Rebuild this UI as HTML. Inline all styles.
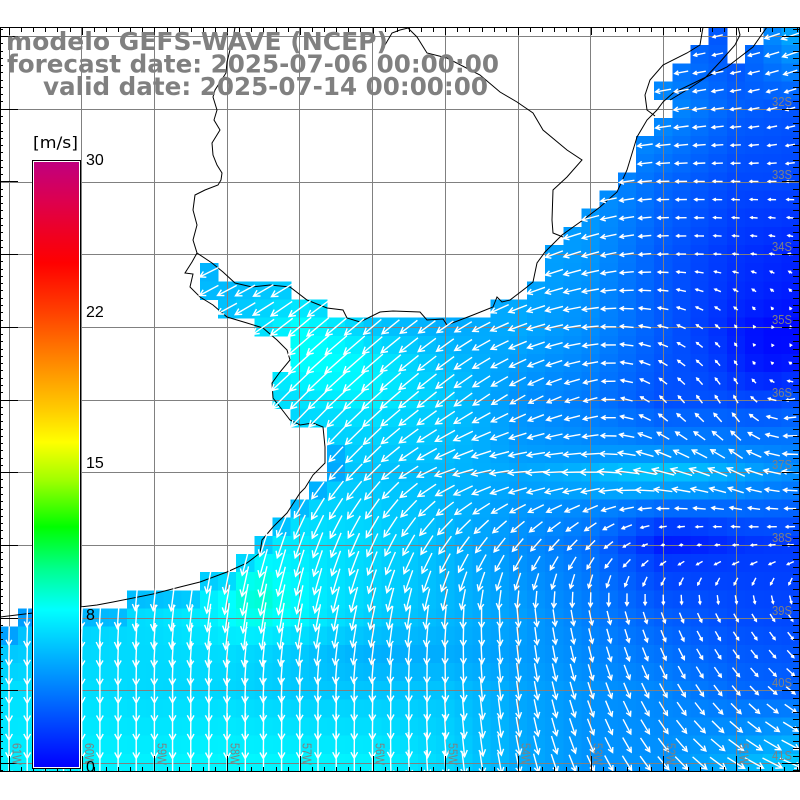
<!DOCTYPE html>
<html><head><meta charset="utf-8">
<style>html,body{margin:0;padding:0;background:#fff;width:800px;height:800px;overflow:hidden}svg{display:block}</style>
</head>
<body>
<svg id="s" xmlns="http://www.w3.org/2000/svg" width="800" height="800" viewBox="0 0 800 800">
<defs>
<clipPath id="fr"><rect x="0" y="27" width="800" height="744"/></clipPath>
<linearGradient id="cb" x1="0" y1="162" x2="0" y2="767" gradientUnits="userSpaceOnUse">
<stop offset="0" stop-color="#c0007f"/>
<stop offset="0.063" stop-color="#dc0050"/>
<stop offset="0.121" stop-color="#f00020"/>
<stop offset="0.167" stop-color="#ff0000"/>
<stop offset="0.248" stop-color="#ff4000"/>
<stop offset="0.349" stop-color="#ff9800"/>
<stop offset="0.41" stop-color="#ffcc00"/>
<stop offset="0.463" stop-color="#ffff00"/>
<stop offset="0.526" stop-color="#a0ff00"/>
<stop offset="0.603" stop-color="#00ff00"/>
<stop offset="0.674" stop-color="#00ff90"/>
<stop offset="0.74" stop-color="#00ffff"/>
<stop offset="1" stop-color="#0000ff"/>
</linearGradient>
</defs>
<rect width="800" height="800" fill="#fff"/>
<g id="cells" clip-path="url(#fr)" shape-rendering="crispEdges"></g>
<path id="grid" fill="none" stroke="#808080" stroke-width="1" shape-rendering="crispEdges" d=""/>
<g fill="none" stroke="#000" stroke-width="1" clip-path="url(#fr)">
<polyline points="235,27 233,40 230,50 227,62 226,73 215,90 213,97 217,110 214,120 220,130 212,143 213,155 217,165 222,173 221,180 218,185 205,190 195,195 193,210 197,225 193,240 197,253 192,262 185,273 193,274 190,287 200,297 213,305 227,317 247,323 263,328 277,340 287,350 290,360 280,372 272,383 273,398 280,407 290,420 300,425 313,423 323,427 325,447 325,463 313,475 305,488 300,493 287,513 273,527 262,540 260,553 247,563 227,572 200,582 180,587 153,594 113,602 97,605 80,607 33,613 0,617"/>
<polyline points="197,253 212,263 223,272 235,283 252,287 270,285 290,287 307,300 327,308 343,310 347,318 360,322 380,312 393,311 420,312 427,320 443,319 447,325 473,315 493,307 497,297 502,302 510,300 527,287 533,282 537,263 545,252 562,235 583,220 600,207 617,192 627,170 637,137 647,120 657,110 663,102 673,93 700,80 727,67 740,57 753,47 767,27"/>
<polyline points="385,45 392,33 400,30 408,28 417,37 427,53 447,58 480,75 500,92 517,102 533,113 543,130 567,150 582,160 567,177 553,190 552,220 553,233 563,237"/>
<polyline points="703,27 700,45 687,53 663,65 650,80 645,95 647,110 655,116"/>
<polyline points="670,100 690,88 705,78 720,62 735,45 740,35 738,27"/>
</g>
<path id="arrows" clip-path="url(#fr)" fill="none" stroke="#fff" stroke-width="1.4" d=""/>
<path id="ticks" fill="none" stroke="#000" stroke-width="1" shape-rendering="crispEdges" d=""/>
<rect x="0.5" y="27.5" width="799" height="744" fill="none" stroke="#000" stroke-width="1" shape-rendering="crispEdges"/>
<g fill="#808080" font-family="'Liberation Sans', sans-serif" font-size="13">
<text x="772" y="106" textLength="20" lengthAdjust="spacingAndGlyphs">32S</text>
<text x="772" y="179" textLength="20" lengthAdjust="spacingAndGlyphs">33S</text>
<text x="772" y="251" textLength="20" lengthAdjust="spacingAndGlyphs">34S</text>
<text x="772" y="324" textLength="20" lengthAdjust="spacingAndGlyphs">35S</text>
<text x="772" y="397" textLength="20" lengthAdjust="spacingAndGlyphs">36S</text>
<text x="772" y="469" textLength="20" lengthAdjust="spacingAndGlyphs">37S</text>
<text x="772" y="542" textLength="20" lengthAdjust="spacingAndGlyphs">38S</text>
<text x="772" y="615" textLength="20" lengthAdjust="spacingAndGlyphs">39S</text>
<text x="772" y="687" textLength="20" lengthAdjust="spacingAndGlyphs">40S</text>
<text x="772" y="760" textLength="20" lengthAdjust="spacingAndGlyphs">41S</text>
<text transform="translate(12.5,743) rotate(90)" textLength="22" lengthAdjust="spacingAndGlyphs">61W</text>
<text transform="translate(85,743) rotate(90)" textLength="22" lengthAdjust="spacingAndGlyphs">60W</text>
<text transform="translate(157.5,743) rotate(90)" textLength="22" lengthAdjust="spacingAndGlyphs">59W</text>
<text transform="translate(230.5,743) rotate(90)" textLength="22" lengthAdjust="spacingAndGlyphs">58W</text>
<text transform="translate(302.5,743) rotate(90)" textLength="22" lengthAdjust="spacingAndGlyphs">57W</text>
<text transform="translate(375.5,743) rotate(90)" textLength="22" lengthAdjust="spacingAndGlyphs">56W</text>
<text transform="translate(448.5,743) rotate(90)" textLength="22" lengthAdjust="spacingAndGlyphs">55W</text>
<text transform="translate(521.5,743) rotate(90)" textLength="22" lengthAdjust="spacingAndGlyphs">54W</text>
<text transform="translate(593.5,743) rotate(90)" textLength="22" lengthAdjust="spacingAndGlyphs">53W</text>
<text transform="translate(666.5,743) rotate(90)" textLength="22" lengthAdjust="spacingAndGlyphs">52W</text>
<text transform="translate(739.5,743) rotate(90)" textLength="22" lengthAdjust="spacingAndGlyphs">51W</text>
</g>
<rect x="32.5" y="160.5" width="48" height="608" fill="#fff" stroke="#000" stroke-width="1" shape-rendering="crispEdges"/>
<rect x="34" y="162" width="45" height="605" fill="url(#cb)" shape-rendering="crispEdges"/>
<g fill="#000" font-family="'Liberation Sans', sans-serif" font-size="16">
<text x="86" y="165">30</text>
<text x="86" y="317">22</text>
<text x="86" y="468">15</text>
<text x="86" y="620">8</text>
<text x="86" y="772">0</text>
</g>
<text x="33" y="148" fill="#000" font-family="'DejaVu Sans', sans-serif" font-size="16" textLength="45" lengthAdjust="spacingAndGlyphs">[m/s]</text>
<g fill="#808080" font-family="'DejaVu Sans', sans-serif" font-weight="bold" font-size="25">
<text x="6" y="50" textLength="382" lengthAdjust="spacingAndGlyphs">modelo GEFS-WAVE (NCEP)</text>
<text x="7" y="72.5" textLength="492" lengthAdjust="spacingAndGlyphs">forecast date: 2025-07-06 00:00:00</text>
<text x="43" y="95" textLength="445" lengthAdjust="spacingAndGlyphs">valid date: 2025-07-14 00:00:00</text>
</g>
</svg>
<script>
(function(){
var X=[9,82,154,227,300,372,445,518,591,663,736,809];
var Y=[36,109,182,254,327,400,472,545,618,690,763];
var S=[
[5,5,5,5,5,5,5,5,4.5,3.5,2.5,6],
[5,5,5,5,5,5,5,5,4.8,4.5,3.0,2.5],
[5,5,5,5,5,5,5,5,4.8,3.3,2.3,2.2],
[5.5,5.5,5.5,5.5,5.5,5.2,5.2,5.3,4.7,2.8,1.6,1.0],
[6,6,6,6.2,7.6,5.6,5.3,5.3,4.4,2.8,1.4,0.8],
[6.8,6.8,6.8,6.8,6.8,7.0,6.3,4.6,3.8,2.5,2.8,3.5],
[6.5,6.5,6.5,6.3,6.2,6.2,5.8,5.0,4.8,5.0,4.7,4.2],
[6.2,6.5,6.8,7.0,7.3,6.8,5.8,4.5,3.5,1.5,1.8,1.8],
[5.6,6.6,7.0,7.6,7.6,6.6,5.8,5.0,4.0,3.0,2.4,2.2],
[7.0,7.0,6.8,6.8,6.4,6.3,6.2,5.2,4.6,4.2,3.3,3.0],
[7.5,7.6,7.6,7.8,7.7,7.6,6.8,5.4,4.6,4.6,5.5,6.5]];
var D=[
[250,250,250,250,250,250,250,250,255,260,255,250],
[245,245,245,245,245,245,245,245,255,260,262,250],
[245,245,245,245,245,245,245,245,255,268,272,265],
[245,245,245,245,245,240,240,245,255,268,275,290],
[235,235,235,240,230,230,235,250,265,285,320,350],
[225,225,225,225,225,228,232,240,255,315,330,240],
[215,215,215,218,220,225,250,265,270,285,295,270],
[185,185,190,195,200,205,215,220,225,255,265,265],
[182,183,185,188,190,192,185,175,168,160,150,145],
[180,180,180,182,182,182,178,172,162,152,140,125],
[180,180,180,180,180,180,175,168,155,140,122,112]];
var U=[],V=[];
for(var j=0;j<D.length;j++){U.push([]);V.push([]);for(var i=0;i<D[j].length;i++){var a=D[j][i]*Math.PI/180;U[j].push(Math.sin(a));V[j].push(-Math.cos(a));}}
function loc(A,v){var n=A.length;if(v<=A[0])return[0,0];if(v>=A[n-1])return[n-2,1];var i=0;while(A[i+1]<v)i++;return[i,(v-A[i])/(A[i+1]-A[i])];}
function bil(G,x,y){var a=loc(X,x),b=loc(Y,y);var i=a[0],tx=a[1],j=b[0],ty=b[1];
return G[j][i]*(1-tx)*(1-ty)+G[j][i+1]*tx*(1-ty)+G[j+1][i]*(1-tx)*ty+G[j+1][i+1]*tx*ty;}
var B=[[350,360,1.3,50,30],[258,595,1.2,25,25],[775,365,-1.5,35,35],[650,478,1.3,70,14],[360,655,-0.9,90,18],[680,537,-0.8,40,12]];
var R=[];
R[0]=[[39,39],[42,43]];R[1]=[[38,39],[41,43]];R[2]=[[37,43]];R[3]=[[36,43]];R[4]=[[37,43]];R[5]=[[36,43]];
R[6]=[[35,43]];R[7]=[[35,43]];R[8]=[[34,43]];R[9]=[[33,43]];R[10]=[[32,43]];R[11]=[[31,43]];R[12]=[[30,43]];
R[13]=[[11,11],[30,43]];R[14]=[[11,15],[29,43]];R[15]=[[12,17],[27,43]];R[16]=[[14,43]];R[17]=[[16,43]];R[18]=[[16,43]];
R[19]=[[15,43]];R[20]=[[15,43]];R[21]=[[16,43]];R[22]=[[18,43]];R[23]=[[18,43]];R[24]=[[18,43]];R[25]=[[17,43]];
R[26]=[[16,43]];R[27]=[[15,43]];R[28]=[[14,43]];R[29]=[[13,43]];R[30]=[[11,43]];R[31]=[[7,43]];R[32]=[[1,43]];
for(var j=33;j<=40;j++)R[j]=[[0,43]];
function sea(i,j){if(j<0||j>40||i<0||i>43)return true;var r=R[j];for(var k=0;k<r.length;k++)if(i>=r[k][0]&&i<=r[k][1])return true;return false;}
function col(s){var r=0,g,b;if(s<=8){g=255*s/8;b=255;}else if(s<=12){g=255;b=255*(12-s)/4;}else{g=255;b=0;r=Math.min(255,255*(s-12)/4);}
return 'rgb('+Math.round(r)+','+Math.round(Math.max(0,g))+','+Math.round(b)+')';}
var c=18.175,cells='',ap='';
for(var j=0;j<=40;j++){for(var i=0;i<=43;i++){if(!sea(i,j))continue;
var cx=9+i*c,cy=36+j*c;
var s=bil(S,cx,cy);
for(var k=0;k<B.length;k++){var b=B[k];var dx=(cx-b[0])/b[3],dy=(cy-b[1])/b[4];s+=b[2]*Math.exp(-(dx*dx+dy*dy)/2);}
if(cy>440&&cx<350&&(!sea(i-1,j)||!sea(i+1,j)||!sea(i,j-1)||!sea(i,j+1)))s-=0.9;
if(s<0.3)s=0.3;
var x0=-0.09+i*c,y0=26.91+j*c;
cells+='<rect x="'+x0.toFixed(2)+'" y="'+y0.toFixed(2)+'" width="18.8" height="18.8" fill="'+col(s)+'"/>';
var ux=bil(U,cx,cy),uy=bil(V,cx,cy),n=Math.sqrt(ux*ux+uy*uy)||1;ux/=n;uy/=n;
var L=3.7*s;var tx=cx-ux*L/2,ty=cy-uy*L/2,hx=cx+ux*L/2,hy=cy+uy*L/2;
var h=Math.max(2.5,Math.min(7,0.32*L)),a=0.5,ca=Math.cos(a),sa=Math.sin(a);
var px=-ux,py=-uy;
var b1x=hx+h*(px*ca-py*sa),b1y=hy+h*(px*sa+py*ca);
var b2x=hx+h*(px*ca+py*sa),b2y=hy+h*(-px*sa+py*ca);
ap+='M'+tx.toFixed(1)+' '+ty.toFixed(1)+'L'+hx.toFixed(1)+' '+hy.toFixed(1)+'M'+b1x.toFixed(1)+' '+b1y.toFixed(1)+'L'+hx.toFixed(1)+' '+hy.toFixed(1)+'L'+b2x.toFixed(1)+' '+b2y.toFixed(1);
}}
var NS='http://www.w3.org/2000/svg';
var g=document.getElementById('cells');
var tmp=new DOMParser().parseFromString('<svg xmlns="'+NS+'">'+cells+'</svg>','image/svg+xml');
var kids=tmp.documentElement.childNodes;
var frag=document.createDocumentFragment();
for(var k=0;k<kids.length;k++)frag.appendChild(document.importNode(kids[k],true));
g.appendChild(frag);
document.getElementById('arrows').setAttribute('d',ap);
var gx=[9,81,154,227,299,372,445,518,590,663,736],gy=[36,109,182,254,327,400,472,545,618,690,763],gd='';
for(var k=0;k<gx.length;k++)gd+='M'+(gx[k]+0.5)+' 27V771';
for(var k=0;k<gy.length;k++)gd+='M0 '+(gy[k]+0.5)+'H800';
document.getElementById('grid').setAttribute('d',gd);
var t='';
for(var k=-2;k<70;k++){var x=9+k*12.117;if(x<0||x>800)continue;var xr=Math.round(x)+0.5;var mj=(k%6===0);
t+='M'+xr+' 27V'+(27+(mj?8:5))+'M'+xr+' 771V'+(771-(mj?15:4));}
for(var k=-2;k<110;k++){var y=36+k*7.27;if(y<27||y>771)continue;var yr=Math.round(y)+0.5;var mj=(k%10===0);
t+='M0 '+yr+'H'+(mj?18:3)+'M800 '+yr+'H'+(800-(mj?18:7));}
document.getElementById('ticks').setAttribute('d',t);
})();
</script>
</body></html>
